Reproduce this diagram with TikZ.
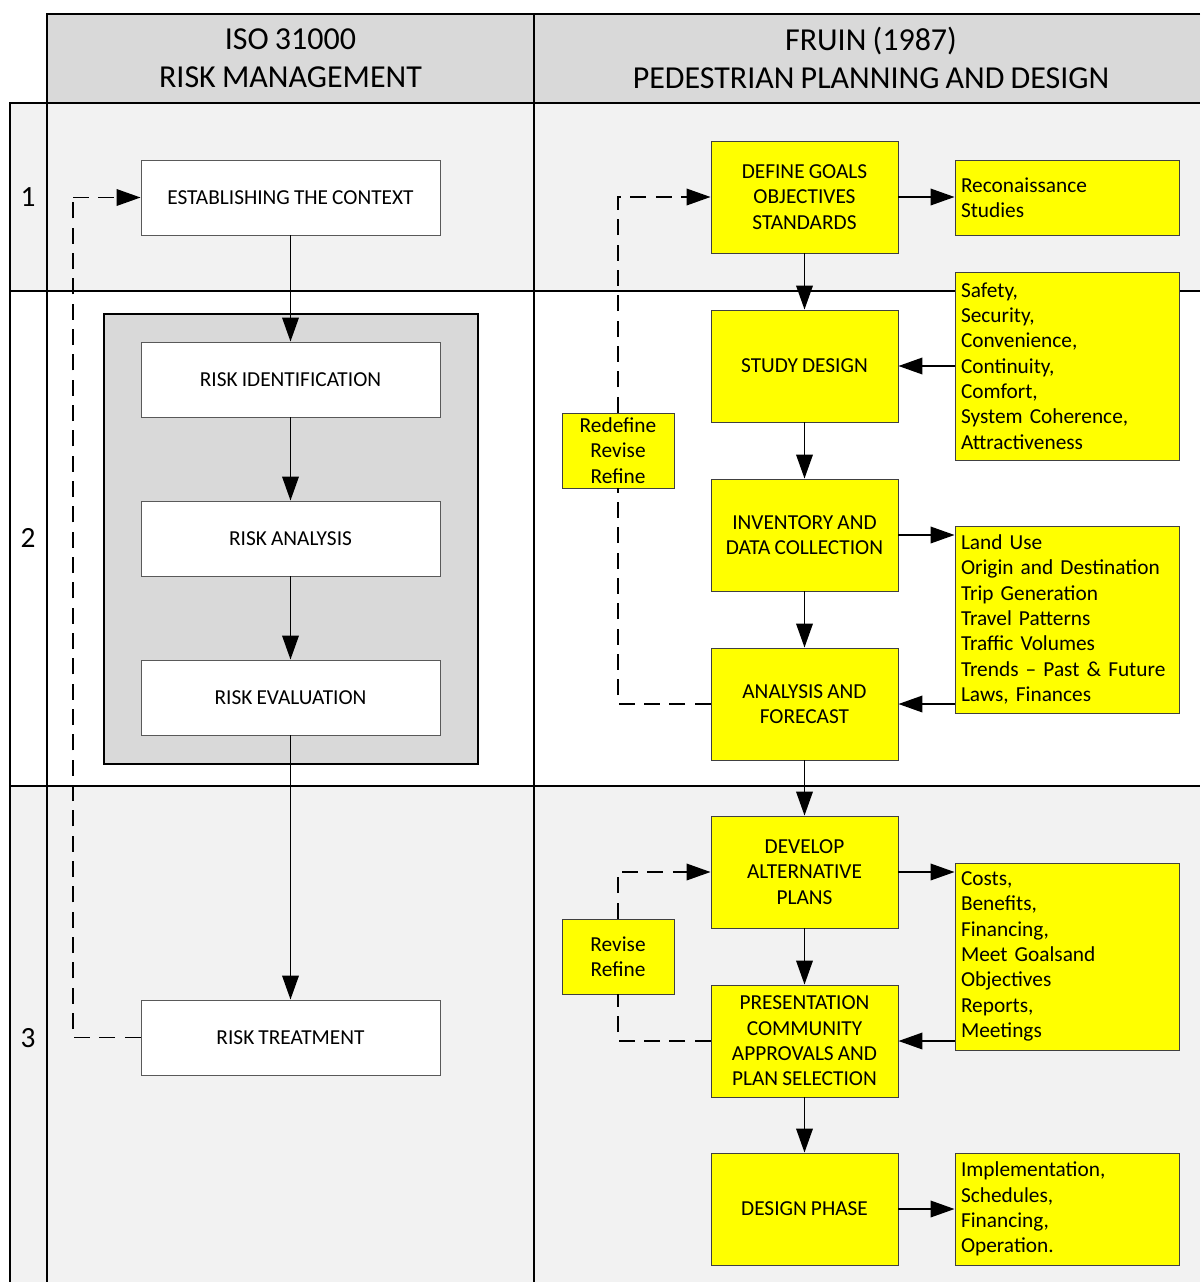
\documentclass[tikz,border=0pt]{standalone}
\usepackage{fontspec}
\setmainfont{Carlito}[WordSpace=0.85]
\usetikzlibrary{arrows.meta}
\def\px{0.75pt}
\definecolor{hdrgray}{HTML}{D9D9D9}
\definecolor{rowgray}{HTML}{F2F2F2}
\definecolor{boxyellow}{HTML}{FFFF00}
\frenchspacing
\begin{document}
\begin{tikzpicture}[x=0.75pt,y=-0.75pt,
  lane/.style={line width=1.4pt,black},
  boxfont/.style={font=\fontsize{16}{19}\selectfont},
  wbox/.style={boxfont,draw=black!65,line width=0.7pt,fill=white,
    minimum width=299*\px,minimum height=75*\px,align=center,inner sep=0pt},
  ybox/.style={boxfont,draw=black!75,line width=0.7pt,fill=boxyellow,
    minimum width=187*\px,minimum height=112*\px,align=center,inner sep=0pt},
  sbox/.style={boxfont,draw=black!75,line width=0.7pt,fill=boxyellow,
    text width=212*\px,inner xsep=6*\px,inner ysep=0pt,align=left},
  lbox/.style={boxfont,draw=black!75,line width=0.7pt,fill=boxyellow,
    minimum width=112*\px,minimum height=75*\px,align=center,inner sep=0pt},
  conn/.style={line width=1.1pt,-{Triangle[length=18pt,width=12.5pt]}},
  loop/.style={line width=1.1pt,dash pattern=on 12pt off 7pt},
  looparrow/.style={loop,-{Triangle[length=18pt,width=12.5pt]}},
  hdrtext/.style={font=\fontsize{24}{28.5}\selectfont,align=center},
  rownum/.style={font=\fontsize{22}{26}\selectfont}]

\useasboundingbox (0,0) rectangle (1200,1282);
\fill[white] (0,0) rectangle (1200,1282);

% lane backgrounds
\fill[hdrgray] (47,14) rectangle (1200,103);
\fill[rowgray] (10,103) rectangle (1200,291);
\fill[rowgray] (10,786) rectangle (1200,1282);

% lane borders
\draw[lane] (1200,14) -- (47,14) -- (47,1282);
\draw[lane] (10,1282) -- (10,103) -- (1200,103);
\draw[lane] (10,291) -- (1200,291);
\draw[lane] (10,786) -- (1200,786);
\draw[lane] (534,14) -- (534,1282);

% headers and row numbers
\node[hdrtext] (hleft) at (290.5,58) {ISO 31000\\RISK MANAGEMENT};
\node[hdrtext] (hright) at (871,58) {FRUIN (1987)\\PEDESTRIAN PLANNING AND DESIGN};
\node[rownum] (r1) at (28,197) {1};
\node[rownum] (r2) at (28,538) {2};
\node[rownum] (r3) at (28,1038) {3};

% risk management process
\node[draw=black,line width=1.4pt,fill=hdrgray,minimum width=374*\px,
  minimum height=450*\px,inner sep=0pt] (assess) at (291,539) {};
\node[wbox] (context) at (290.5,197.5) {ESTABLISHING THE CONTEXT};
\node[wbox] (riskid) at (290.5,379.5) {RISK IDENTIFICATION};
\node[wbox] (riskan) at (290.5,538.5) {RISK ANALYSIS};
\node[wbox] (riskev) at (290.5,697.5) {RISK EVALUATION};
\node[wbox] (treat) at (290.5,1037.5) {RISK TREATMENT};
\coordinate (lturn) at (73,197.5);

\draw[conn] (context) -- (riskid);
\draw[conn] (riskid) -- (riskan);
\draw[conn] (riskan) -- (riskev);
\draw[conn] (riskev) -- (treat);
\draw[loop] (treat.west) -| (lturn);
\draw[looparrow] (lturn) -- (context.west);

% pedestrian planning process
\node[ybox] (goals) at (804.5,197) {DEFINE GOALS\\OBJECTIVES\\STANDARDS};
\node[ybox] (study) at (804.5,366) {STUDY DESIGN};
\node[ybox] (inventory) at (804.5,535) {INVENTORY AND\\DATA COLLECTION};
\node[ybox] (analysis) at (804.5,704) {ANALYSIS AND\\FORECAST};
\node[ybox] (develop) at (804.5,872) {DEVELOP\\ALTERNATIVE\\PLANS};
\node[ybox] (present) at (804.5,1041) {PRESENTATION\\COMMUNITY\\APPROVALS AND\\PLAN SELECTION};
\node[ybox] (design) at (804.5,1209) {DESIGN PHASE};

\node[sbox,minimum height=75*\px] (recon) at (1067,197.5) {Reconaissance\\Studies};
\node[sbox,minimum height=188*\px] (safety) at (1067,366) {Safety,\\Security,\\Convenience,\\Continuity,\\Comfort,\\System Coherence,\\Attractiveness};
\node[sbox,minimum height=187*\px] (landuse) at (1067,619.5) {Land Use\\Origin and Destination\\Trip Generation\\Travel Patterns\\Traffic Volumes\\Trends -- Past \& Future\\Laws, Finances};
\node[sbox,minimum height=187*\px] (costs) at (1067,956.5) {Costs,\\Benefits,\\Financing,\\Meet Goalsand\\Objectives\\Reports,\\Meetings};
\node[sbox,minimum height=112*\px] (impl) at (1067,1209) {Implementation,\\Schedules,\\Financing,\\Operation.};

\node[lbox] (redefine) at (618,450.5) {Redefine\\Revise\\Refine};
\node[lbox] (revise) at (618,956.5) {Revise\\Refine};

\draw[conn] (goals) -- (study);
\draw[conn] (study) -- (inventory);
\draw[conn] (inventory) -- (analysis);
\draw[conn] (analysis) -- (develop);
\draw[conn] (develop) -- (present);
\draw[conn] (present) -- (design);

\draw[conn] (goals.east) -- (goals.east -| recon.west);
\draw[conn] (safety.west |- study.east) -- (study.east);
\draw[conn] (inventory.east) -- (inventory.east -| landuse.west);
\draw[conn] (landuse.west |- analysis.east) -- (analysis.east);
\draw[conn] (develop.east) -- (develop.east -| costs.west);
\draw[conn] (costs.west |- present.east) -- (present.east);
\draw[conn] (design.east) -- (design.east -| impl.west);

\draw[loop] (analysis.west) -| (redefine.south);
\draw[looparrow] (redefine.north) |- (goals.west);
\draw[loop] (present.west) -| (revise.south);
\draw[looparrow] (revise.north) |- (develop.west);
\end{tikzpicture}
\end{document}
